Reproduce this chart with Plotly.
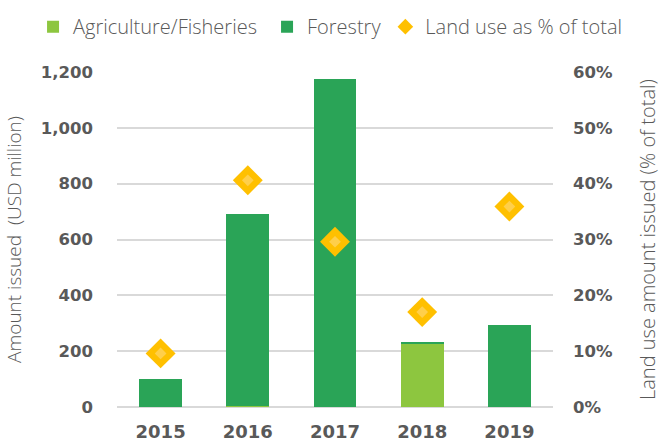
import plotly.graph_objects as go

years = ["2015", "2016", "2017", "2018", "2019"]
agriculture = [0, 5, 0, 229, 0]
forestry = [102, 686, 1174, 5, 294]
land_use_pct = [9.6, 40.6, 29.6, 17.0, 35.9]

GREY = "#595959"
TICK_FONT = dict(size=16.5, family="DejaVu Sans", weight="bold", color=GREY)

fig = go.Figure()
fig.add_trace(go.Bar(x=years, y=agriculture, name="Agriculture/Fisheries",
                     marker=dict(color="#8DC63F", line=dict(width=0)), legend="legend"))
fig.add_trace(go.Bar(x=years, y=forestry, name="Forestry",
                     marker=dict(color="#2AA457", line=dict(width=0)), legend="legend2"))
fig.add_trace(go.Scatter(x=years, y=land_use_pct, name="Land use as % of total",
                         mode="markers", yaxis="y2", legend="legend3",
                         marker=dict(symbol="diamond", size=23, color="#FFC000")))
# lighter centre of the diamonds
fig.add_trace(go.Scatter(x=years, y=land_use_pct, mode="markers", yaxis="y2",
                         showlegend=False, hoverinfo="skip",
                         marker=dict(symbol="diamond", size=9, color="#FFCF4A")))


def legend_at(x):
    return dict(orientation="h", x=x, xanchor="left", xref="container",
                y=0.94, yanchor="middle", yref="container",
                font=dict(size=20, family="Open Sans", weight=300, color=GREY),
                itemsizing="constant", bgcolor="rgba(0,0,0,0)")


fig.update_layout(
    width=661, height=444,
    barmode="stack", bargap=0.51,
    plot_bgcolor="white", paper_bgcolor="white",
    margin=dict(l=117, r=108, t=72, b=37),
    font=dict(family="Open Sans", color=GREY),
    legend=legend_at(0.05),
    legend2=legend_at(0.404),
    legend3=legend_at(0.583),
    xaxis=dict(tickfont=dict(size=18, family="DejaVu Sans", weight="bold", color=GREY),
               showline=False, ticks="", automargin=False, ticklabelstandoff=12),
    yaxis=dict(range=[0, 1200], dtick=200, tickformat=",",
               gridcolor="#D9D9D9", gridwidth=1.5, zeroline=True,
               zerolinecolor="#D9D9D9", zerolinewidth=1.5,
               tickfont=TICK_FONT, ticklabelstandoff=23, automargin=False,
               title=dict(text="Amount issued  (USD million)", standoff=14,
                          font=dict(size=19, family="Open Sans", weight=300, color=GREY))),
    yaxis2=dict(range=[0, 60], dtick=10, ticksuffix="%", overlaying="y", side="right",
                showgrid=False, zeroline=False, automargin=False,
                tickfont=TICK_FONT, ticklabelstandoff=19,
                title=dict(text="Land use amount issued (% of total)", standoff=30,
                           font=dict(size=20, family="Open Sans", weight=300, color=GREY))),
)

# drop the browser's default page margin so the figure sits at (0, 0)
fig.write_html("out.html", config={"displayModeBar": False},
               post_script="document.body.style.margin='0';")
